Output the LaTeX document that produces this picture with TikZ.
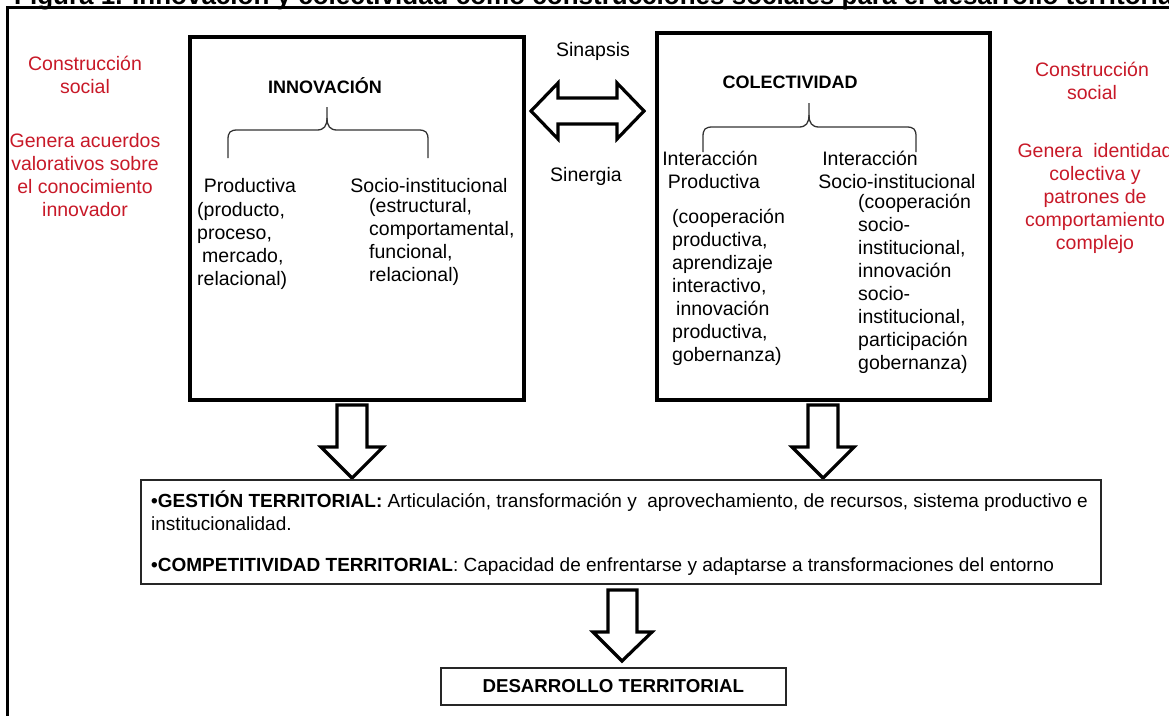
\documentclass[tikz,border=0pt]{standalone}
\usepackage{fontspec}
\setmainfont{Liberation Sans}
\definecolor{redtxt}{RGB}{200,25,40}
\begin{document}
\begin{tikzpicture}[x=1pt,y=-1pt,
  body/.style={font=\fontsize{19.5}{23}\selectfont, inner sep=0pt},
  redtext/.style={body, text=redtxt, align=center, anchor=north},
  coltext/.style={body, align=left, anchor=north west},
  onetext/.style={body, anchor=base},
  headtext/.style={font=\fontsize{18}{22}\selectfont\bfseries, inner sep=0pt, anchor=base},
  bigbox/.style={draw=black, line width=4pt, inner sep=0pt, anchor=north west},
  thinbox/.style={draw=black!85, line width=1.5pt, inner sep=0pt, anchor=north west},
  blockarrow/.style={draw=black, fill=white, line width=3.2pt, line join=miter},
  bracestyle/.style={draw=black!80, line width=1.3pt},
]
\useasboundingbox (0,0) rectangle (1169,715);
\clip (0,0) rectangle (1169,715);
\fill[white] (0,0) rectangle (1169,715);

% title (cropped)
\node[font=\fontsize{26}{30}\selectfont\bfseries, inner sep=0pt, anchor=base west] (title) at (14,4.5) {Figura 1. Innovación y colectividad como construcciones sociales para el desarrollo territorial};

% outer frame
\draw[line width=3pt] (7,730) -- (7,7) -- (1200,7);

% main boxes
\node[bigbox, minimum width=334pt, minimum height=363pt] (innov) at (188,35) {};
\node[bigbox, minimum width=333pt, minimum height=367pt] (colec) at (655,31) {};

% left red text
\node[redtext] (lcs) at (85,53.9) {\strut Construcción\\social};
\node[redtext] (lga) at (85,130.9) {\strut Genera acuerdos\\valorativos sobre\\el conocimiento\\innovador};

% right red text
\node[redtext] (rcs) at (1092,59.9) {\strut Construcción\\social};
\node[redtext] (rgi) at (1095,140.9) {\strut Genera\ \ identidad\\colectiva y\\patrones de\\comportamiento\\complejo};

% INNOVACION box content
\node[headtext] (innovt) at (325,93.5) {INNOVACIÓN};
\draw[bracestyle] (228,158) -- (228,140) .. controls (228,132) and (230,130) .. (238,130)
  -- (317,130) .. controls (324,130) and (327,126) .. (327,118) -- (327,107);
\draw[bracestyle] (327,118) .. controls (327,126) and (330,130) .. (337,130)
  -- (418,130) .. controls (426,130) and (428,132) .. (428,140) -- (428,158);
\node[onetext] (prod) at (250,192) {Productiva};
\node[onetext] (socio) at (429,192) {Socio-institucional};
\node[coltext] (prodl) at (197,199.9) {\strut(producto,\\proceso,\\\hspace{5pt}mercado,\\relacional)};
\node[coltext] (sociol) at (369,195.9) {\strut(estructural,\\comportamental,\\funcional,\\relacional)};

% COLECTIVIDAD box content
\node[headtext] (colect) at (790,88.5) {COLECTIVIDAD};
\draw[bracestyle] (703,152) -- (703,137) .. controls (703,129) and (705,127) .. (713,127)
  -- (799,127) .. controls (806,127) and (809,123) .. (809,115) -- (809,103);
\draw[bracestyle] (809,115) .. controls (809,123) and (812,127) .. (819,127)
  -- (906,127) .. controls (914,127) and (916,129) .. (916,137) -- (916,152);
\node[onetext] (ip1) at (710,165) {Interacción};
\node[onetext] (ip2) at (714,188) {Productiva};
\node[onetext] (is1) at (870,165) {Interacción};
\node[onetext] (is2) at (897,188) {Socio-institucional};
\node[coltext] (ipl) at (672,206.9) {\strut(cooperación\\productiva,\\aprendizaje\\interactivo,\\\hspace{4pt}innovación\\productiva,\\gobernanza)};
\node[coltext] (isl) at (858,191.9) {\strut(cooperación\\socio-\\institucional,\\innovación\\socio-\\institucional,\\participación\\gobernanza)};

% synapse / synergy
\node[onetext] (sinap) at (593,56) {Sinapsis};
\node[onetext] (siner) at (586,181) {Sinergia};
\draw[blockarrow] (531,111) -- (558,83) -- (558,98) -- (617,98) -- (617,83) -- (644,111)
  -- (617,139) -- (617,124) -- (558,124) -- (558,139) -- cycle;

% down arrows
\draw[blockarrow] (337,405) -- (367,405) -- (367,447) -- (383,447) -- (352,478) -- (321,447) -- (337,447) -- cycle;
\draw[blockarrow] (808,405) -- (838,405) -- (838,447) -- (854,447) -- (823,478) -- (792,447) -- (808,447) -- cycle;
\draw[blockarrow] (608,590) -- (637,590) -- (637,632) -- (652,632) -- (622,661) -- (593,632) -- (608,632) -- cycle;

% bottom box
\node[thinbox, minimum width=960pt, minimum height=104pt] (gest) at (140,479) {};
\node[font=\fontsize{19}{23}\selectfont, inner sep=0pt, align=left, anchor=north west] (gtxt) at (151,490.9)
  {\strut\textbf{•GESTIÓN TERRITORIAL:} Articulación, transformación y\ \ aprovechamiento, de recursos, sistema productivo e\\institucionalidad.\\[18pt]\textbf{•COMPETITIVIDAD TERRITORIAL}: Capacidad de enfrentarse y adaptarse a transformaciones del entorno};

% final box
\node[thinbox, minimum width=345pt, minimum height=37pt, font=\fontsize{18.7}{23}\selectfont\bfseries] (des) at (440,667) {DESARROLLO TERRITORIAL};
\end{tikzpicture}
\end{document}
